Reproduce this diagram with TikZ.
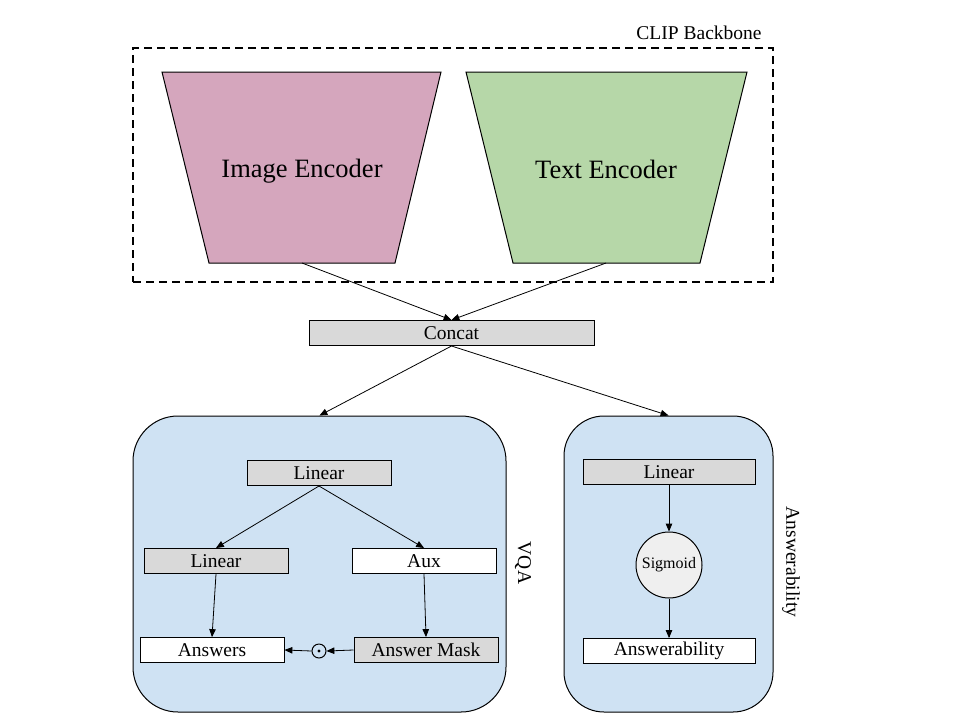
\documentclass[tikz,border=0pt]{standalone}
\usepackage{fontspec}
\setmainfont{Liberation Serif}
\usepackage{tikz}
\usetikzlibrary{arrows}
\definecolor{pinkenc}{HTML}{D5A6BD}
\definecolor{greenenc}{HTML}{B6D7A8}
\definecolor{headblue}{HTML}{CFE2F3}
\definecolor{layergray}{HTML}{D9D9D9}
\definecolor{sigmoidgray}{HTML}{EFEFEF}
\tikzstyle{layer} = [rectangle, draw=black, line width=1pt, fill=layergray,
inner sep=0pt, minimum height=25pt, font=\fontsize{19.5}{22}\selectfont]
\tikzstyle{output} = [layer, fill=white]
\tikzstyle{head} = [rectangle, draw=black, line width=1pt, fill=headblue,
rounded corners=45pt, inner sep=0pt]
\tikzstyle{caption} = [font=\fontsize{19.5}{22}\selectfont, inner sep=0pt]
\newcommand{\link}[3][]{ %
  % Connect all nodes #2 to all nodes #3.
  \foreach \x in {#2} { %
    \foreach \y in {#3} { %
      \path (\x) edge [->, >={triangle 45}, line width=0.8pt, #1] (\y) ;%
    } ;
  } ;
}

\begin{document}
\begin{tikzpicture}[x=1pt, y=-1pt]
  \useasboundingbox[fill=white] (0,0) rectangle (960,720);
  % CLIP backbone
  \node[rectangle, draw=black, line width=2pt, dash pattern=on 8pt off 5pt,
    minimum width=640pt, minimum height=234pt, inner sep=0pt](clip) at (453,165) {};
  \node[caption](clip-caption) at (699,33) {CLIP Backbone};
  \filldraw[fill=pinkenc, line width=1pt] (162,72) -- (441,72) -- (395,263) -- (209,263) -- cycle;
  \filldraw[fill=greenenc, line width=1pt] (466,72) -- (747,72) -- (700,263) -- (513,263) -- cycle;
  \node[caption, font=\fontsize{26.5}{30}\selectfont](imgenc) at (302,171) {Image Encoder};
  \node[caption, font=\fontsize{26.5}{30}\selectfont](txtenc) at (606,169) {Text Encoder};
  \coordinate (imgenc-out) at (302,263);
  \coordinate (txtenc-out) at (606,263);
  \node[layer, minimum width=285pt](concat) at (451.5,333) {Concat};
  % heads
  \node[head, minimum width=373pt, minimum height=296pt](vqa) at (319.5,564) {};
  \node[head, minimum width=209pt, minimum height=296pt, rounded corners=40pt](ansb) at (668.5,564) {};
  \node[caption, rotate=-90](vqa-caption) at (523,563) {VQA};
  \node[caption, rotate=-90](ansb-caption) at (791,562) {Answerability};
  % VQA head
  \node[layer, minimum width=144pt](vlin) at (319,473) {Linear};
  \node[layer, minimum width=144pt](llin) at (216,561) {Linear};
  \node[output, minimum width=144pt](aux) at (424,561) {Aux};
  \node[output, minimum width=144pt](answers) at (212,650) {Answers};
  \node[layer, minimum width=144pt](mask) at (426,650) {Answer Mask};
  \node[circle, draw=black, line width=1pt, inner sep=0pt, minimum size=14pt](odot) at (319,651) {};
  \fill (odot) circle (1.6pt);
  % answerability head
  \node[layer, minimum width=172pt](alin) at (669,472) {Linear};
  \node[circle, draw=black, line width=1pt, fill=sigmoidgray, minimum size=66pt,
    inner sep=0pt, font=\fontsize{16}{18}\selectfont](sig) at (669,565) {Sigmoid};
  \node[output, minimum width=172pt](answ) at (669,651) {Answerability};
  % connections
  \link{imgenc-out,txtenc-out}{concat.north};
  \link{concat.south}{vqa.north,ansb.north};
  \link{vlin.south}{llin.north,aux.north};
  \link{llin.south}{answers.north};
  \link{aux.south}{mask.north};
  \link{mask.west}{odot.east};
  \link{odot.west}{answers.east};
  \link{alin}{sig};
  \link{sig}{answ};
\end{tikzpicture}
\end{document}
